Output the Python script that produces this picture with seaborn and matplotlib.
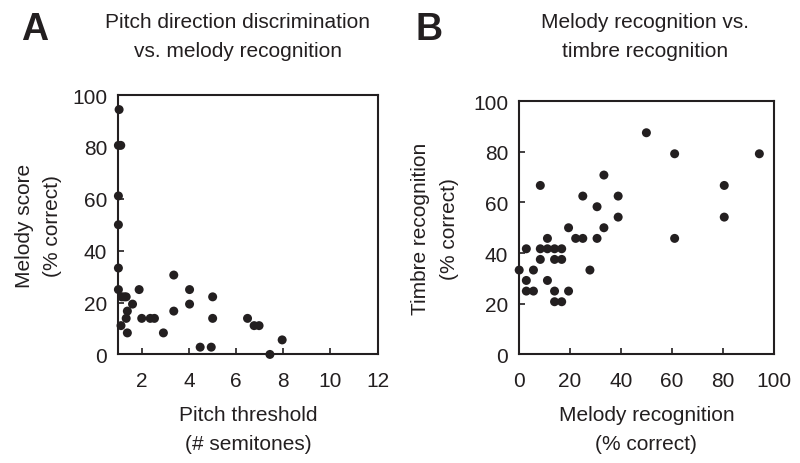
import matplotlib
matplotlib.use("Agg")
import matplotlib.pyplot as plt
import seaborn as sns
import pandas as pd

# panel A: pitch threshold vs melody score
pitch_threshold = [1.03, 1.0, 1.1, 1.0, 1.0, 1.0, 1.0, 1.14, 1.25, 1.33, 1.88, 1.6, 1.38,
                   1.33, 1.11, 1.38, 1.99, 2.35, 2.53, 2.91, 3.35, 3.35, 4.02, 4.02, 4.47,
                   4.94, 5.0, 5.0, 6.48, 6.76, 6.97, 7.43, 7.95]
melody_score = [94.4, 80.6, 80.6, 61.1, 50.0, 33.3, 25.0, 22.2, 22.2, 22.2, 25.0, 19.4, 16.7,
                13.9, 11.1, 8.3, 13.9, 13.9, 13.9, 8.3, 30.6, 16.7, 25.0, 19.4, 2.8,
                2.8, 22.2, 13.9, 13.9, 11.1, 11.1, 0.0, 5.6]

# panel B: melody recognition vs timbre recognition
melody_recog = [0.0, 2.8, 2.8, 2.8, 5.6, 5.6, 8.3, 8.3, 8.3, 11.1, 11.1, 11.1, 13.9, 13.9,
                13.9, 13.9, 16.7, 16.7, 16.7, 19.4, 19.4, 22.2, 25.0, 25.0, 27.8, 30.6,
                30.6, 33.3, 33.3, 38.9, 38.9, 50.0, 61.1, 61.1, 80.6, 80.6, 94.4]
timbre_recog = [33.3, 29.2, 25.0, 41.7, 33.3, 25.0, 66.7, 41.7, 37.5, 45.8, 41.7, 29.2, 41.7,
                37.5, 25.0, 20.8, 41.7, 37.5, 20.8, 50.0, 25.0, 45.8, 62.5, 45.8, 33.3,
                58.3, 45.8, 70.8, 50.0, 62.5, 54.2, 87.5, 79.2, 45.8, 66.7, 54.2, 79.2]

df_a = pd.DataFrame({"pitch": pitch_threshold, "melody": melody_score})
df_b = pd.DataFrame({"melody": melody_recog, "timbre": timbre_recog})

sns.set_style("ticks")
plt.rcParams["font.family"] = ["Liberation Sans", "DejaVu Sans"]

ink = "#231f20"
fig = plt.figure(figsize=(8, 4.64), dpi=100)
ax_a = fig.add_axes([0.148, 0.234, 0.324, 0.559])
ax_b = fig.add_axes([0.649, 0.234, 0.318, 0.546])

sns.scatterplot(data=df_a, x="pitch", y="melody", ax=ax_a, color=ink, s=42,
                edgecolor="none", clip_on=False, zorder=5)
sns.scatterplot(data=df_b, x="melody", y="timbre", ax=ax_b, color=ink, s=42,
                edgecolor="none", clip_on=False, zorder=5)

ax_a.set_xlim(1, 12)
ax_a.set_xticks([2, 4, 6, 8, 10, 12])
ax_a.set_ylim(0, 100)
ax_a.set_yticks(range(0, 101, 20))
ax_a.set_xlabel("Pitch threshold\n(# semitones)", fontsize=15, labelpad=11, linespacing=1.65)
ax_a.set_ylabel("Melody score\n(% correct)", fontsize=15, labelpad=7, linespacing=1.65)

ax_b.set_xlim(0, 100)
ax_b.set_xticks(range(0, 101, 20))
ax_b.set_ylim(0, 100)
ax_b.set_yticks(range(0, 101, 20))
ax_b.set_xlabel("Melody recognition\n(% correct)", fontsize=15, labelpad=11, linespacing=1.65)
ax_b.set_ylabel("Timbre recognition\n(% correct)", fontsize=15, labelpad=10, linespacing=1.65)

for ax in (ax_a, ax_b):
    for sp in ax.spines.values():
        sp.set_linewidth(1.5)
        sp.set_color(ink)
    ax.tick_params(axis="x", direction="in", length=4, width=1.2, pad=12,
                   labelsize=15, colors=ink)
    ax.tick_params(axis="y", direction="in", length=4, width=1.2, pad=8,
                   labelsize=15, colors=ink)
    ax.xaxis.label.set_color(ink)
    ax.yaxis.label.set_color(ink)

fig.text(0.297, 0.972, "Pitch direction discrimination\nvs. melody recognition",
         ha="center", va="top", fontsize=15, color=ink, linespacing=1.65)
fig.text(0.806, 0.972, "Melody recognition vs.\ntimbre recognition",
         ha="center", va="top", fontsize=15, color=ink, linespacing=1.65)
fig.text(0.026, 0.975, "A", ha="left", va="top", fontsize=27, fontweight="bold", color=ink)
fig.text(0.519, 0.975, "B", ha="left", va="top", fontsize=27, fontweight="bold", color=ink)

fig.savefig("out.png", dpi=100)
